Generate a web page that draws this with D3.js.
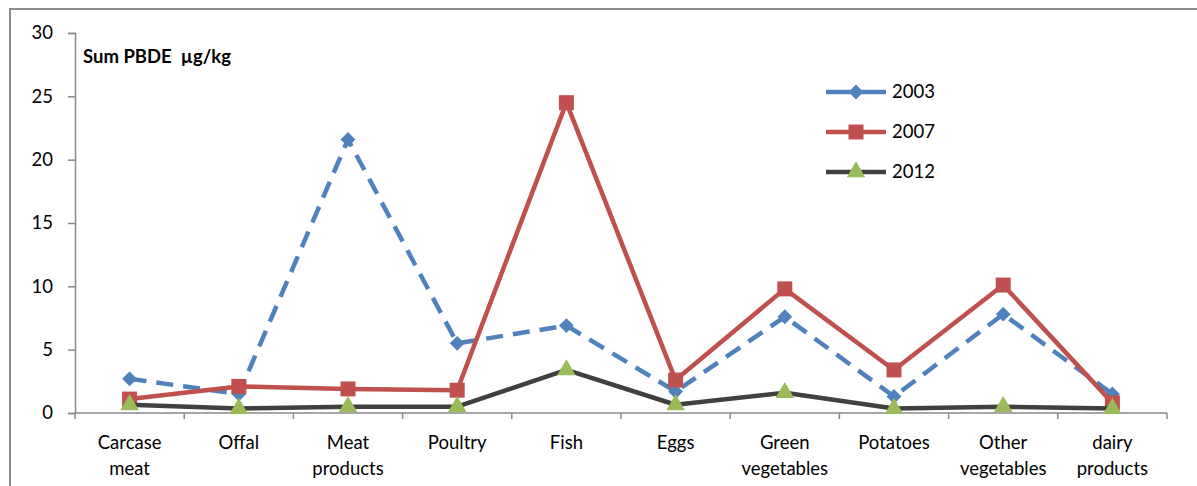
<!DOCTYPE html>
<html><head><meta charset="utf-8">
<script src="https://cdn.jsdelivr.net/npm/d3@7"></script>
<style>body{margin:0;background:#fff}svg{display:block}text{font-family:Lato,"Open Sans",sans-serif;fill:#000}</style>
</head><body><svg id="c" width="1197" height="486"></svg>
<script>
const categories = [["Carcase","meat"],["Offal"],["Meat","products"],["Poultry"],["Fish"],["Eggs"],["Green","vegetables"],["Potatoes"],["Other","vegetables"],["dairy","products"]];
const s2003 = [2.7,1.5,21.6,5.5,6.9,1.7,7.6,1.3,7.8,1.5];
const s2007 = [1.1,2.1,1.9,1.8,24.5,2.6,9.8,3.4,10.1,0.8];
const s2012 = [0.65,0.35,0.5,0.5,3.4,0.65,1.6,0.35,0.5,0.35];
const yTicks = [0,5,10,15,20,25,30];
const seriesNames = ["2003","2007","2012"];

const svg = d3.select("#c");
svg.append("rect").attr("x",10).attr("y",9).attr("width",1200).attr("height",500)
  .attr("fill","none").attr("stroke","#8c8c8c").attr("stroke-width",2);

const x = d3.scaleBand().domain(d3.range(categories.length)).range([75,1167]);
const y = d3.scaleLinear().domain([0,30]).range([413,33]);

const ya = svg.append("g").attr("transform","translate(75,0)")
  .call(d3.axisLeft(y).tickValues(yTicks).tickSize(7).tickPadding(15));
ya.select(".domain").attr("stroke","#888").attr("stroke-width",1.5);
ya.selectAll(".tick line").attr("stroke","#888").attr("stroke-width",1.5);
ya.selectAll(".tick text").attr("font-size",18.5).attr("font-family","Lato,sans-serif").attr("fill","#000");

const xa = svg.append("g").attr("transform","translate(0,413)");
xa.append("line").attr("x1",75).attr("x2",1167).attr("stroke","#888").attr("stroke-width",1.5);
xa.selectAll("line.tk").data(d3.range(categories.length+1)).join("line").attr("class","tk")
  .attr("x1",d=>75+x.step()*d).attr("x2",d=>75+x.step()*d).attr("y1",0).attr("y2",6)
  .attr("stroke","#888").attr("stroke-width",1.5);
xa.selectAll("text.cl").data(categories).join("text").attr("class","cl")
  .attr("text-anchor","middle").attr("font-size",18.5)
  .attr("transform",(d,i)=>`translate(${x(i)+x.bandwidth()/2},36)`)
  .each(function(d){
    const t=d3.select(this);
    d.forEach((l,j)=>t.append("tspan").attr("x",0).attr("dy",j?26:0).text(l));
  });

svg.append("text").attr("x",83).attr("y",63).attr("font-size",18.5).attr("font-weight","bold")
  .style("white-space","pre").text("Sum PBDE  µg/kg");

const cx = i=>x(i)+x.bandwidth()/2;
const line = d3.line().x((d,i)=>cx(i)).y(d=>y(d));

const series = [
  {name:"2003",vals:s2003,color:"#4F81BD",dash:"17,10",sym:d3.symbolSquare,size:110,rot:45,fill:"#4F81BD"},
  {name:"2007",vals:s2007,color:"#C0504D",dash:null,sym:d3.symbolSquare,size:225,rot:0,fill:"#C0504D"},
  {name:"2012",vals:s2012,color:"#404040",dash:null,sym:d3.symbolTriangle,size:150,rot:0,fill:"#9BBB59"}
];
series.forEach(s=>{
  const g=svg.append("g");
  g.append("path").datum(s.vals).attr("d",line).attr("fill","none").attr("stroke",s.color)
    .attr("stroke-width",4.5).attr("stroke-dasharray",s.dash).attr("stroke-linejoin","round");
  g.selectAll("path.m").data(s.vals).join("path").attr("class","m")
    .attr("d",d3.symbol().type(s.sym).size(s.size))
    .attr("transform",(d,i)=>`translate(${cx(i)},${y(d)}) rotate(${s.rot})`).attr("fill",s.fill);
});

const lg = svg.append("g");
series.forEach((s,i)=>{
  const ly=92+i*40;
  lg.append("line").attr("x1",826).attr("x2",886).attr("y1",ly).attr("y2",ly)
    .attr("stroke",s.color).attr("stroke-width",4.5);
  lg.append("path").attr("d",d3.symbol().type(s.sym).size(s.size))
    .attr("transform",`translate(856,${ly}) rotate(${s.rot})`).attr("fill",s.fill);
  lg.append("text").attr("x",892).attr("y",ly+6).attr("font-size",18.5).text(seriesNames[i]);
});
</script></body></html>
